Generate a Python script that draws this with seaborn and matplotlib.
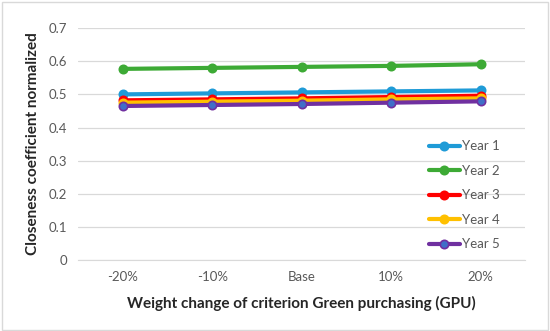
import pandas as pd
import matplotlib
matplotlib.use("Agg")
import matplotlib.pyplot as plt
import seaborn as sns

# ── Data ─────────────────────────────────────────────────────────────────────
weights = ["-20%", "-10%", "Base", "10%", "20%"]
year1 = [0.500, 0.503, 0.506, 0.509, 0.512]
year2 = [0.577, 0.580, 0.583, 0.586, 0.591]
year3 = [0.482, 0.485, 0.488, 0.492, 0.496]
year4 = [0.475, 0.478, 0.481, 0.485, 0.488]
year5 = [0.465, 0.468, 0.471, 0.475, 0.479]
series_names = ["Year 1", "Year 2", "Year 3", "Year 4", "Year 5"]
colors = ["#1F9BD7", "#3DAA35", "#FF0000", "#FFC000", "#7030A0"]

rows = []
for name, vals in zip(series_names, [year1, year2, year3, year4, year5]):
    for w, v in zip(weights, vals):
        rows.append({"Weight": w, "Value": v, "Year": name})
df = pd.DataFrame(rows)

# ── Chart ────────────────────────────────────────────────────────────────────
sns.set_style("white")
plt.rcParams["font.family"] = ["Lato", "DejaVu Sans"]

fig = plt.figure(figsize=(5.5, 3.31), dpi=100)
ax = fig.add_axes([0.142, 0.2145, 0.813, 0.7005])

sns.lineplot(data=df, x="Weight", y="Value", hue="Year", palette=colors,
             marker="o", markersize=6, markeredgewidth=1.2, linewidth=3,
             sort=False, ax=ax, legend=True)

# Year 5 markers have a blue face in the original
for line in ax.get_lines():
    line.set_markeredgecolor(line.get_color())
    line.set_markerfacecolor(line.get_color())
ax.get_lines()[4].set_markerfacecolor("#3F6FC8")

ax.set_xlim(-0.5, 4.5)
ax.set_ylim(0, 0.7)
ax.set_yticks([0, 0.1, 0.2, 0.3, 0.4, 0.5, 0.6, 0.7])
ax.set_yticklabels(["0", "0.1", "0.2", "0.3", "0.4", "0.5", "0.6", "0.7"])
ax.grid(axis="y", color="#D9D9D9", linewidth=0.9)
ax.set_axisbelow(True)
for s in ["top", "right", "left"]:
    ax.spines[s].set_visible(False)
ax.spines["bottom"].set_color("#D9D9D9")
ax.tick_params(axis="both", length=0, labelsize=9.5, colors="#595959", pad=8)

ax.set_xlabel("Weight change of criterion Green purchasing (GPU)",
              fontsize=11, fontweight="bold", labelpad=9)
ax.set_ylabel("Closeness coefficient normalized",
              fontsize=11, fontweight="bold", labelpad=6)

handles, labels = ax.get_legend_handles_labels()
for h in handles:
    h.set_markeredgecolor(h.get_color())
    h.set_markerfacecolor(h.get_color())
handles[4].set_markerfacecolor("#3F6FC8")
leg = ax.legend(handles, labels, loc="lower right", bbox_to_anchor=(0.97, -0.01),
                frameon=False, fontsize=9.5, labelspacing=0.95,
                handlelength=2.3, handletextpad=0.2)
for t in leg.get_texts():
    t.set_color("#595959")

# Light chart border
fig.patches.append(plt.Rectangle((0.004, 0.004), 0.992, 0.99, fill=False,
                                 edgecolor="#D9D9D9", linewidth=1,
                                 transform=fig.transFigure))

fig.savefig("out.png", dpi=100)
